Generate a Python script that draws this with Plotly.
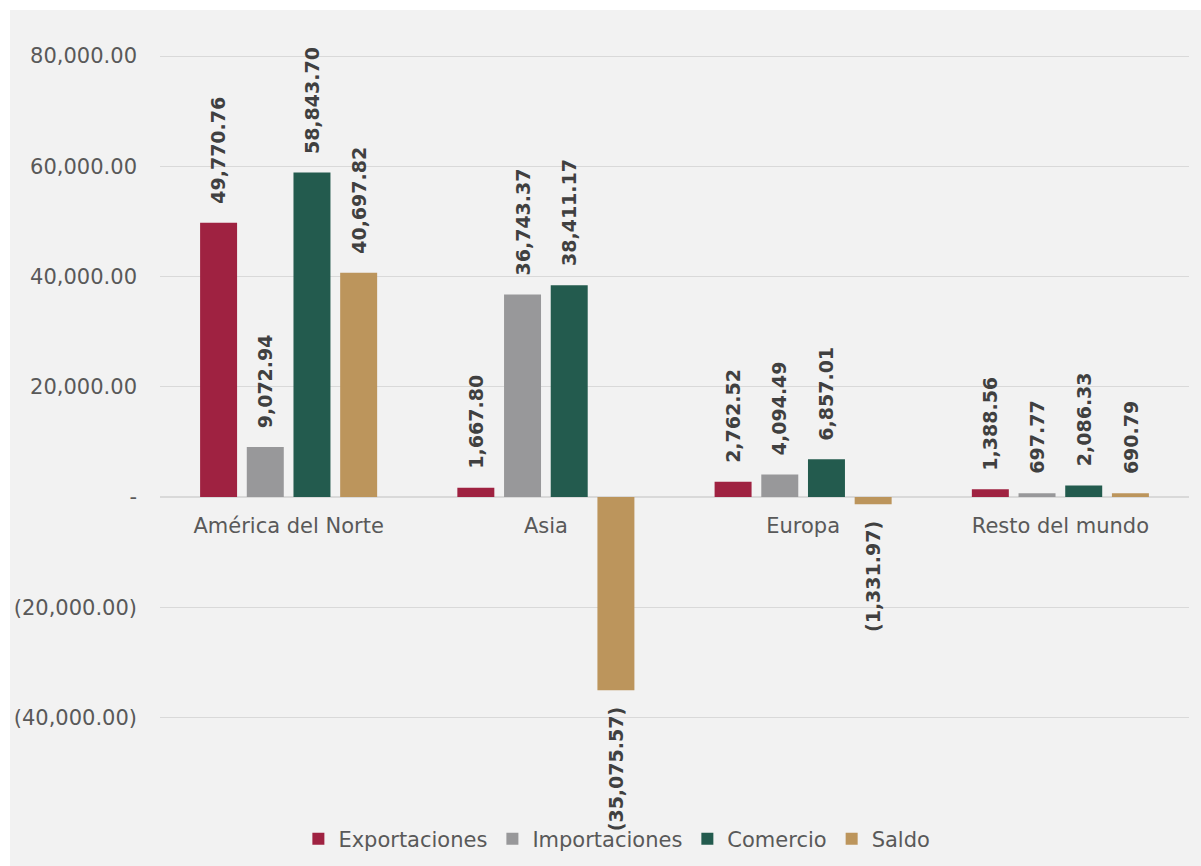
import plotly.graph_objects as go

# Regional trade balance by region (millions of dollars)
regions = ["América del Norte", "Asia", "Europa", "Resto del mundo"]
exportaciones = [49770.76, 1667.80, 2762.52, 1388.56]
importaciones = [9072.94, 36743.37, 4094.49, 697.77]
comercio = [58843.70, 38411.17, 6857.01, 2086.33]
saldo = [40697.82, -35075.57, -1331.97, 690.79]

series_names = ["Exportaciones", "Importaciones", "Comercio", "Saldo"]
series_values = [exportaciones, importaciones, comercio, saldo]
series_colors = ["#9f2241", "#98989a", "#235b4e", "#bc955c"]

y_ticks = [80000, 60000, 40000, 20000, 0, -20000, -40000]
y_range = [-56780, 86530]


def fmt(v):
    """Accounting style: thousands separator, negatives in parentheses, zero as a dash."""
    if v == 0:
        return "-"
    s = f"{abs(v):,.2f}"
    return f"({s})" if v < 0 else s


FONT = "DejaVu Sans"
TEXT_GREY = "#595959"
LABEL_GREY = "#404040"
BARGAP = 0.274
GROUPGAP = 0.208

fig = go.Figure()
for name, vals, color in zip(series_names, series_values, series_colors):
    fig.add_trace(go.Bar(
        name=name, x=regions, y=vals,
        marker=dict(color=color, line=dict(width=0)),
    ))

# Rotated value labels placed just beyond each bar end
n = len(series_names)
slot = (1 - BARGAP) / n
annotations = []
for i, vals in enumerate(series_values):
    for j, v in enumerate(vals):
        annotations.append(dict(
            x=j + (i - (n - 1) / 2) * slot, y=v, xref="x", yref="y",
            text=fmt(v), showarrow=False, textangle=-90,
            yanchor="bottom" if v >= 0 else "top",
            yshift=17 if v >= 0 else -15,
            font=dict(family=FONT, size=19, color=LABEL_GREY, weight="bold"),
        ))

# Category axis sits on the zero line
zero_pos = (0 - y_range[0]) / (y_range[1] - y_range[0])

# White frame around the grey panel (top and left edges)
ML, MR, MT, MB = 160, 12, 20, 56
W, H = 1201, 866
pw, ph = W - ML - MR, H - MT - MB
shapes = [
    dict(type="rect", xref="paper", yref="paper", layer="below",
         x0=-1, x1=(10 - ML) / pw, y0=-1, y1=2,
         fillcolor="white", line=dict(width=0)),
    dict(type="rect", xref="paper", yref="paper", layer="below",
         x0=-1, x1=2, y0=1 + (MT - 10) / ph, y1=2,
         fillcolor="white", line=dict(width=0)),
]

fig.update_layout(
    width=W, height=H,
    margin=dict(l=ML, r=MR, t=MT, b=MB, autoexpand=False),
    paper_bgcolor="#f2f2f2", plot_bgcolor="#f2f2f2",
    barmode="group", bargap=BARGAP, bargroupgap=GROUPGAP,
    font=dict(family=FONT, color=TEXT_GREY),
    showlegend=True,
    legend=dict(
        orientation="h", x=0.444, xanchor="center",
        y=-(839 - (H - MB)) / ph, yanchor="middle",
        font=dict(family=FONT, size=21, color=TEXT_GREY),
        itemwidth=30, bgcolor="rgba(0,0,0,0)",
    ),
    xaxis=dict(
        anchor="free", position=zero_pos,
        showgrid=False, showline=False, ticks="",
        tickfont=dict(family=FONT, size=21, color=TEXT_GREY),
        ticklabelstandoff=14,
    ),
    yaxis=dict(
        range=y_range, tickvals=y_ticks, ticktext=[fmt(t) for t in y_ticks],
        showgrid=True, gridcolor="#d9d9d9", gridwidth=1,
        zeroline=True, zerolinecolor="#d9d9d9", zerolinewidth=1.5,
        showline=False, ticks="",
        tickfont=dict(family=FONT, size=21, color=TEXT_GREY),
        ticklabelstandoff=22,
    ),
    annotations=annotations,
    shapes=shapes,
)

fig.write_html("out.html")
